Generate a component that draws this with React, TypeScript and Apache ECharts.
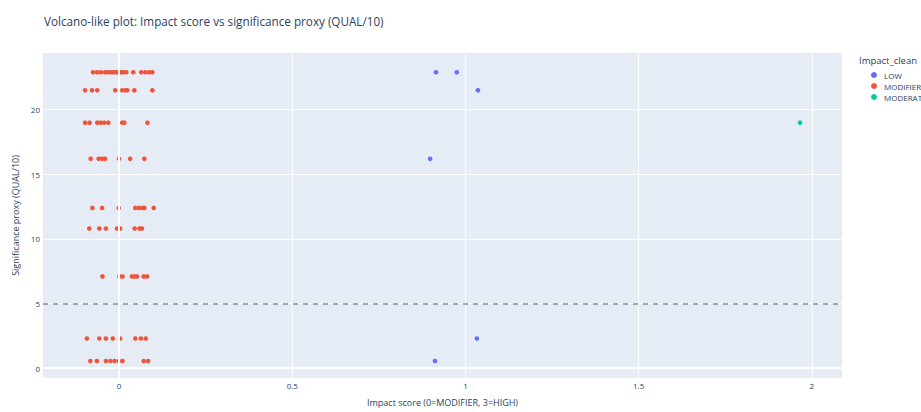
import React, { useEffect, useRef } from "react";
import * as echarts from "echarts";

// Tick values
const xTicks = [0, 0.5, 1, 1.5, 2];
const yTicks = [0, 5, 10, 15, 20];
const threshold = 5;

// MODIFIER rows: significance level and the jittered impact scores in that row
const modifierRowY = [22.9, 21.5, 19.0, 16.2, 12.4, 10.8, 7.1, 2.3, 0.55];
const modifierRowX = [
  [-0.075, -0.063, -0.052, -0.04, -0.031, -0.023, -0.017, -0.011, -0.005, 0.001, 0.006, 0.012, 0.021, 0.041, 0.064, 0.076, 0.087, 0.096],
  [-0.098, -0.078, -0.063, -0.011, 0.009, 0.018, 0.024, 0.044, 0.096],
  [-0.098, -0.085, -0.063, -0.053, -0.043, -0.031, 0.009, 0.015, 0.082],
  [-0.082, -0.059, -0.049, -0.04, 0.0, 0.032, 0.073],
  [-0.077, -0.049, -0.001, 0.047, 0.057, 0.067, 0.073, 0.1],
  [-0.086, -0.057, -0.038, -0.006, 0.003, 0.045, 0.059, 0.066],
  [-0.048, 0.001, 0.01, 0.037, 0.045, 0.052, 0.071, 0.081],
  [-0.093, -0.057, -0.038, -0.018, 0.003, 0.047, 0.063, 0.077],
  [-0.083, -0.064, -0.038, -0.025, -0.013, -0.001, 0.01, 0.071, 0.084],
];

// LOW points
const lowX = [0.915, 0.975, 1.036, 0.898, 1.033, 0.912];
const lowY = [22.9, 22.9, 21.5, 16.2, 2.3, 0.55];

// MODERATE points
const moderateX = [1.966];
const moderateY = [19.0];

const TEXT = "#2a3f5f";
const FONT = "Open Sans";

export default function App() {
  const ref = useRef<HTMLDivElement>(null);

  useEffect(() => {
    if (!ref.current) return;
    const chart = echarts.init(ref.current, undefined, { renderer: "svg" });

    const modifierData: number[][] = [];
    modifierRowY.forEach((y, i) => {
      modifierRowX[i].forEach((x) => modifierData.push([x, y]));
    });
    const lowData = lowX.map((x, i) => [x, lowY[i]]);
    const moderateData = moderateX.map((x, i) => [x, moderateY[i]]);

    chart.setOption({
      animation: false,
      backgroundColor: "#ffffff",
      textStyle: { fontFamily: FONT, color: TEXT },
      title: {
        text: "Volcano-like plot: Impact score vs significance proxy (QUAL/10)",
        left: 39,
        top: 10,
        textStyle: { fontSize: 11.7, fontWeight: "normal", color: TEXT, fontFamily: FONT },
      },
      grid: {
        left: 43,
        right: 79,
        top: 53,
        bottom: 29,
        show: true,
        backgroundColor: "#E5ECF6",
        borderWidth: 0,
      },
      legend: {
        orient: "vertical",
        left: 866,
        top: 66,
        itemWidth: 10,
        itemHeight: 6,
        itemGap: 3,
        icon: "circle",
        data: ["LOW", "MODIFIER", "MODERATE"],
        textStyle: { fontSize: 8, color: TEXT, fontFamily: FONT, padding: [0, 0, 0, 0] },
      },
      graphic: [
        {
          type: "text",
          left: 859,
          top: 55,
          style: { text: "Impact_clean", fontSize: 9.5, fill: TEXT, fontFamily: FONT },
        },
      ],
      xAxis: {
        type: "value",
        min: -0.2196,
        max: 2.087,
        axisLine: { show: false },
        axisTick: { show: false, customValues: xTicks },
        axisLabel: { customValues: xTicks, fontSize: 8, color: TEXT, margin: 3 },
        splitLine: { show: true, lineStyle: { color: "#ffffff", width: 1 } },
        name: "Impact score (0=MODIFIER, 3=HIGH)",
        nameLocation: "middle",
        nameGap: 20,
        nameTextStyle: { fontSize: 9, color: TEXT },
      },
      yAxis: {
        type: "value",
        min: -0.76,
        max: 24.39,
        axisLine: { show: false },
        axisTick: { show: false, customValues: yTicks },
        axisLabel: { customValues: yTicks, fontSize: 8, color: TEXT, margin: 3 },
        splitLine: { show: true, lineStyle: { color: "#ffffff", width: 1 } },
        name: "Significance proxy (QUAL/10)",
        nameLocation: "middle",
        nameGap: 18,
        nameTextStyle: { fontSize: 9, color: TEXT },
      },
      series: [
        {
          type: "scatter",
          data: [],
          z: 1,
          silent: true,
          markLine: {
            silent: true,
            symbol: "none",
            label: { show: false },
            lineStyle: { color: "#ffffff", width: 2, type: "solid" },
            data: [{ xAxis: 0 }, { yAxis: 0 }],
          },
        },
        {
          name: "LOW",
          type: "scatter",
          symbol: "circle",
          symbolSize: 4.6,
          itemStyle: { color: "#636efa", opacity: 1 },
          data: lowData,
          z: 3,
        },
        {
          name: "MODIFIER",
          type: "scatter",
          symbol: "circle",
          symbolSize: 4.6,
          itemStyle: { color: "#EF553B", opacity: 1 },
          data: modifierData,
          z: 3,
        },
        {
          name: "MODERATE",
          type: "scatter",
          symbol: "circle",
          symbolSize: 4.6,
          itemStyle: { color: "#00cc96", opacity: 1 },
          data: moderateData,
          z: 3,
        },
        {
          type: "scatter",
          data: [],
          z: 4,
          silent: true,
          markLine: {
            silent: true,
            symbol: "none",
            label: { show: false },
            lineStyle: { color: "#858a94", width: 1.5, type: [5, 5] },
            data: [{ yAxis: threshold }],
          },
        },
      ],
    });

    return () => chart.dispose();
  }, []);

  return (
    <div
      ref={ref}
      style={{ position: "fixed", left: 0, top: 0, width: 921, height: 412 }}
    />
  );
}
